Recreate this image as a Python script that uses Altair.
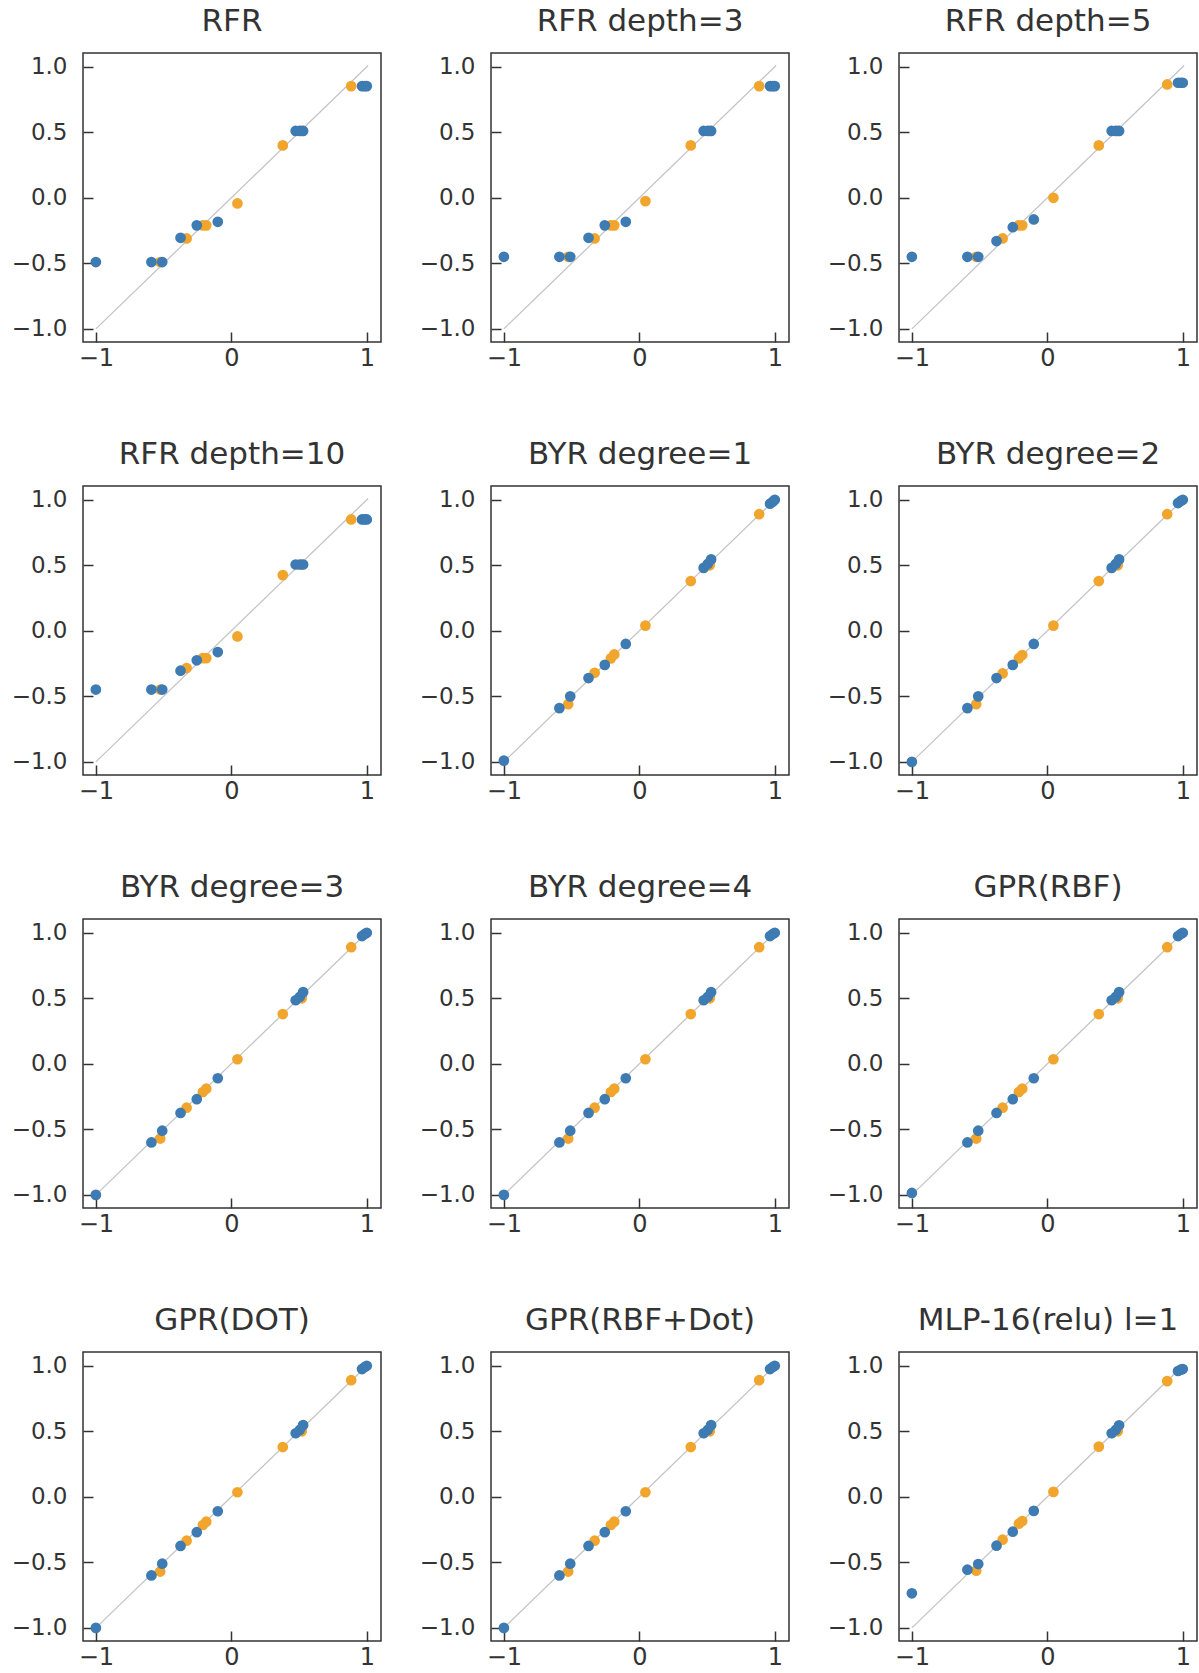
import altair as alt
import pandas as pd

titles = ["RFR", "RFR depth=3", "RFR depth=5",
          "RFR depth=10", "BYR degree=1", "BYR degree=2",
          "BYR degree=3", "BYR degree=4", "GPR(RBF)",
          "GPR(DOT)", "GPR(RBF+Dot)", "MLP-16(relu) l=1"]

# true values (x axis)
train_x = [-1.0, -0.59, -0.51, -0.375, -0.255, -0.10, 0.475, 0.505, 0.53, 0.965, 0.985, 1.0]
test_x = [-0.525, -0.33, -0.21, -0.185, 0.045, 0.38, 0.52, 0.885]

# predictions (y axis)
rfr_train = [-0.49, -0.49, -0.49, -0.305, -0.21, -0.183, 0.51, 0.51, 0.51, 0.852, 0.852, 0.852]
rfr_test = [-0.49, -0.31, -0.21, -0.21, -0.043, 0.40, 0.51, 0.852]
rfr3_train = [-0.45, -0.45, -0.45, -0.305, -0.21, -0.183, 0.51, 0.51, 0.51, 0.852, 0.852, 0.852]
rfr3_test = [-0.45, -0.31, -0.21, -0.21, -0.025, 0.40, 0.51, 0.852]
rfr5_train = [-0.45, -0.45, -0.45, -0.33, -0.224, -0.165, 0.51, 0.51, 0.51, 0.878, 0.878, 0.878]
rfr5_test = [-0.45, -0.31, -0.21, -0.21, 0.0, 0.40, 0.51, 0.865]
rfr10_train = [-0.448, -0.448, -0.448, -0.304, -0.225, -0.162, 0.506, 0.506, 0.506, 0.85, 0.85, 0.85]
rfr10_test = [-0.448, -0.284, -0.208, -0.208, -0.043, 0.425, 0.506, 0.85]
byr1_train = [-0.99, -0.59, -0.50, -0.36, -0.26, -0.10, 0.48, 0.51, 0.545, 0.97, 0.985, 1.0]
byr1_test = [-0.56, -0.32, -0.21, -0.18, 0.04, 0.38, 0.50, 0.89]
byr2_train = [-1.0, -0.59, -0.50, -0.36, -0.26, -0.10, 0.48, 0.51, 0.545, 0.975, 0.99, 1.0]
byr2_test = [-0.56, -0.325, -0.21, -0.185, 0.04, 0.38, 0.50, 0.89]
byr3_train = [-1.0, -0.60, -0.51, -0.375, -0.27, -0.11, 0.485, 0.51, 0.547, 0.975, 0.99, 1.0]
byr3_test = [-0.57, -0.335, -0.215, -0.19, 0.035, 0.38, 0.50, 0.89]
byr4_train = [-1.0, -0.60, -0.51, -0.375, -0.27, -0.11, 0.485, 0.51, 0.547, 0.975, 0.99, 1.0]
byr4_test = [-0.57, -0.335, -0.215, -0.19, 0.035, 0.38, 0.50, 0.89]
gprrbf_train = [-0.985, -0.60, -0.51, -0.375, -0.27, -0.11, 0.485, 0.51, 0.547, 0.975, 0.99, 1.0]
gprrbf_test = [-0.57, -0.335, -0.215, -0.19, 0.035, 0.38, 0.50, 0.89]
gprdot_train = [-1.0, -0.60, -0.51, -0.375, -0.27, -0.11, 0.485, 0.51, 0.547, 0.975, 0.99, 1.0]
gprdot_test = [-0.57, -0.335, -0.215, -0.19, 0.035, 0.38, 0.50, 0.89]
gprsum_train = [-1.0, -0.60, -0.51, -0.375, -0.27, -0.11, 0.485, 0.51, 0.547, 0.975, 0.99, 1.0]
gprsum_test = [-0.57, -0.335, -0.215, -0.19, 0.035, 0.38, 0.50, 0.89]
mlp_train = [-0.736, -0.556, -0.513, -0.373, -0.266, -0.107, 0.485, 0.51, 0.546, 0.96, 0.97, 0.975]
mlp_test = [-0.563, -0.327, -0.205, -0.185, 0.038, 0.383, 0.50, 0.883]

train_preds = [rfr_train, rfr3_train, rfr5_train, rfr10_train, byr1_train, byr2_train,
               byr3_train, byr4_train, gprrbf_train, gprdot_train, gprsum_train, mlp_train]
test_preds = [rfr_test, rfr3_test, rfr5_test, rfr10_test, byr1_test, byr2_test,
              byr3_test, byr4_test, gprrbf_test, gprdot_test, gprsum_test, mlp_test]

diag = [-1.0, 1.01]
x_ticks = [-1, 0, 1]
y_ticks = [-1.0, -0.5, 0.0, 0.5, 1.0]

BLUE = "#3d7bb2"
ORANGE = "#f2a52c"
GREY = "#333333"
FONT = "DejaVu Sans"

xscale = alt.Scale(domain=[-1.095, 1.105], nice=False, zero=False)
yscale = alt.Scale(domain=[-1.1, 1.105], nice=False, zero=False)

xaxis = alt.Axis(values=x_ticks, format="d", offset=-10, tickSize=10, domain=False,
                 grid=False, labelPadding=4, labelFontSize=24, title="",
                 labelExpr="replace(datum.label, '-', '\u2212')")
yaxis = alt.Axis(values=y_ticks, format=".1f", offset=-10, tickSize=10, domain=False,
                 grid=False, labelPadding=16, labelFontSize=23, title="",
                 labelExpr="replace(datum.label, '-', '\u2212')")


def panel(title, tr, te):
    line_df = pd.DataFrame({"x": diag, "y": diag})
    tr_df = pd.DataFrame({"x": train_x, "y": tr})
    te_df = pd.DataFrame({"x": test_x, "y": te})
    line = alt.Chart(line_df).mark_line(color="#c4c4c4", strokeWidth=1.3).encode(
        x=alt.X("x:Q", scale=xscale, axis=xaxis),
        y=alt.Y("y:Q", scale=yscale, axis=yaxis),
    )
    te_pts = alt.Chart(te_df).mark_circle(color=ORANGE, size=115, opacity=1).encode(
        x=alt.X("x:Q", scale=xscale), y=alt.Y("y:Q", scale=yscale))
    tr_pts = alt.Chart(tr_df).mark_circle(color=BLUE, size=115, opacity=1).encode(
        x=alt.X("x:Q", scale=xscale), y=alt.Y("y:Q", scale=yscale))
    return alt.layer(line, te_pts, tr_pts).properties(
        width=298, height=289,
        title=alt.TitleParams(title, fontSize=31, font=FONT, fontWeight="normal",
                              color=GREY, anchor="middle", baseline="alphabetic",
                              frame="group", offset=-9),
    )


charts = [panel(t, a, b) for t, a, b in zip(titles, train_preds, test_preds)]

chart = alt.ConcatChart(
    concat=charts, columns=3, spacing={"row": 144, "column": 110}, bounds="flush"
).properties(
    padding={"left": 10, "top": 5, "right": 0, "bottom": 0},
    background="white",
).configure_view(
    stroke=GREY, strokeWidth=1.5
).configure_axis(
    tickColor=GREY, tickWidth=1.5, labelColor=GREY, labelFont=FONT
)

chart.save("out.html", embed_options={"renderer": "svg", "actions": False})
